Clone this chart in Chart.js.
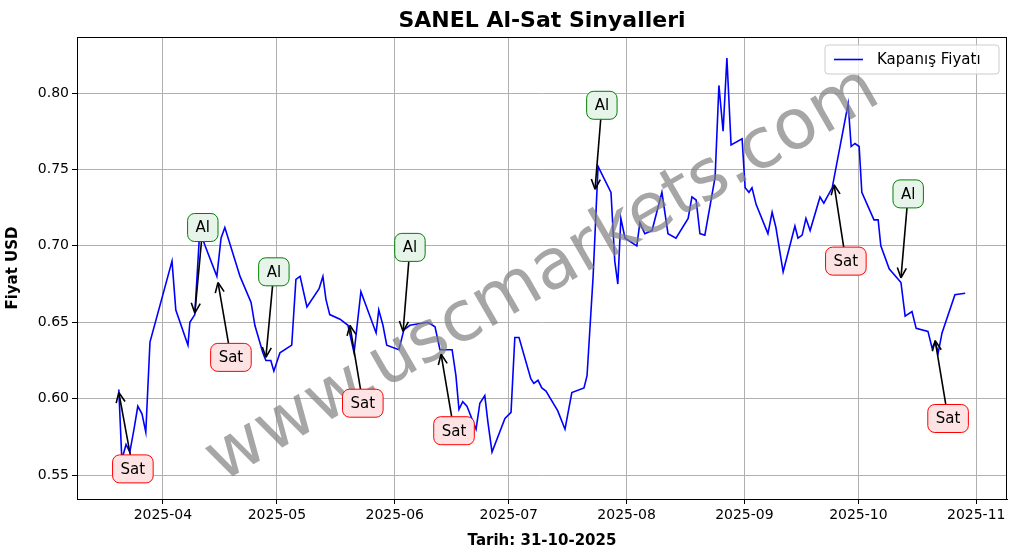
<!DOCTYPE html>
<html>
<head>
<meta charset="utf-8">
<script src="https://cdn.jsdelivr.net/npm/chart.js@4"></script>
<style>
  body { margin: 0; background: #fff; }
  #wrap { width: 1017px; height: 554px; }
</style>
</head>
<body>
<div id="wrap"><canvas id="lineChart"></canvas></div>
<script>
// day of year 2025 (Jan 1 = 0)
const days = [78.4, 79.2, 80.3, 81.3, 82.4, 83.4, 84.5, 85.5, 86.6, 92.4, 93.4, 96.6, 97.1, 98.4, 99.7, 101.1,
  104.2, 105.3, 106.3, 110.3, 113.2, 114.2, 116.3, 117.1, 118.4, 119.2, 120.8, 123.9, 125.0, 126.1, 127.9,
  131.1, 132.1, 132.9, 133.9, 136.6, 138.7, 140.3, 142.1, 146.1, 146.8, 147.9, 148.9, 152.1, 153.4, 155.0,
  159.7, 161.6, 162.9, 166.1, 167.1, 167.9, 168.9, 170.0, 172.4, 173.4, 174.7, 175.5, 176.6, 180.0, 181.6,
  182.6, 183.7, 186.8, 187.6, 188.7, 189.7, 190.8, 193.9, 195.8, 197.6, 200.8, 201.6, 203.2, 204.5, 207.9,
  208.9, 209.7, 210.5, 211.6, 214.7, 215.5, 216.8, 218.7, 221.3, 222.9, 225.0, 228.2, 229.2, 230.3, 231.3,
  232.6, 235.3, 236.3, 237.4, 238.4, 239.5, 242.4, 243.2, 244.2, 245.0, 246.1, 249.2, 250.3, 251.3, 252.4,
  253.2, 256.3, 257.1, 258.2, 259.2, 260.3, 262.9, 263.9, 266.1, 270.3, 271.1, 272.1, 273.2, 273.9, 277.1,
  278.2, 278.9, 281.1, 284.2, 285.3, 287.1, 288.2, 291.3, 292.4, 293.2, 294.0, 295.0, 298.4, 301.1];
const prices = [0.606, 0.560, 0.570, 0.565, 0.580, 0.595, 0.590, 0.578, 0.637, 0.690, 0.658, 0.635, 0.650, 0.655, 0.710, 0.700,
  0.680, 0.705, 0.712, 0.680, 0.663, 0.648, 0.630, 0.625, 0.625, 0.618, 0.630, 0.635, 0.678, 0.680, 0.660,
  0.672, 0.680, 0.665, 0.655, 0.652, 0.648, 0.630, 0.670, 0.643, 0.658, 0.648, 0.635, 0.632, 0.645, 0.648,
  0.650, 0.647, 0.632, 0.632, 0.615, 0.593, 0.598, 0.595, 0.580, 0.597, 0.602, 0.585, 0.565, 0.587, 0.591,
  0.640, 0.640, 0.613, 0.610, 0.612, 0.607, 0.605, 0.592, 0.580, 0.604, 0.607, 0.615, 0.680, 0.752, 0.735,
  0.690, 0.675, 0.718, 0.705, 0.700, 0.715, 0.708, 0.710, 0.735, 0.708, 0.705, 0.718, 0.732, 0.730, 0.708,
  0.707, 0.745, 0.805, 0.775, 0.823, 0.766, 0.770, 0.738, 0.735, 0.738, 0.727, 0.708, 0.722, 0.712, 0.695,
  0.683, 0.713, 0.705, 0.707, 0.718, 0.710, 0.732, 0.728, 0.738, 0.793, 0.765, 0.767, 0.765, 0.735, 0.717,
  0.717, 0.700, 0.685, 0.676, 0.654, 0.657, 0.646, 0.644, 0.633, 0.637, 0.630, 0.643, 0.668, 0.669];

const tickDays = [90, 120, 151, 181, 212, 243, 273, 304];
const tickLabels = ["2025-04", "2025-05", "2025-06", "2025-07", "2025-08", "2025-09", "2025-10", "2025-11"];
const yTicks = [0.55, 0.60, 0.65, 0.70, 0.75, 0.80];

// signals
const sigType = ["Sat", "Al", "Sat", "Al", "Sat", "Al", "Sat", "Al", "Sat", "Al", "Sat"];
const sigDay = [78.4, 98.4, 104.5, 117.1, 139.2, 153.2, 163.2, 203.7, 266.6, 284.2, 293.2];
const sigPrice = [0.604, 0.656, 0.676, 0.627, 0.648, 0.644, 0.629, 0.737, 0.740, 0.679, 0.638];
const labelDay = [82.1, 100.5, 107.9, 119.2, 142.6, 155.0, 166.6, 205.5, 269.7, 286.1, 296.6];
const labelPrice = [0.554, 0.712, 0.627, 0.683, 0.597, 0.699, 0.579, 0.792, 0.690, 0.734, 0.587];

const FONT = "DejaVu Sans";

function roundRect(ctx, x, y, w, h, r) {
  ctx.beginPath();
  ctx.moveTo(x + r, y);
  ctx.arcTo(x + w, y, x + w, y + h, r);
  ctx.arcTo(x + w, y + h, x, y + h, r);
  ctx.arcTo(x, y + h, x, y, r);
  ctx.arcTo(x, y, x + w, y, r);
  ctx.closePath();
}

const extras = {
  id: "extras",
  afterDatasetsDraw(chart) {
    const ctx = chart.ctx;
    const xs = chart.scales.x, ys = chart.scales.y;
    const area = chart.chartArea;
    ctx.save();
    // frame
    ctx.strokeStyle = "#000";
    ctx.lineWidth = 1;
    ctx.strokeRect(area.left + 0.5, area.top + 0.5, area.right - area.left - 1, area.bottom - area.top);

    // watermark
    ctx.save();
    ctx.translate(543, 276);
    ctx.rotate(-30 * Math.PI / 180);
    ctx.font = "70px " + FONT;
    ctx.fillStyle = "rgba(128,128,128,0.7)";
    ctx.textAlign = "center";
    ctx.textBaseline = "middle";
    ctx.fillText("www.uscmarkets.com", 0, 0);
    ctx.restore();

    // annotations
    ctx.font = "15px " + FONT;
    for (let i = 0; i < sigType.length; i++) {
      const tx = xs.getPixelForValue(sigDay[i]), ty = ys.getPixelForValue(sigPrice[i]);
      const lx = xs.getPixelForValue(labelDay[i]), ly = ys.getPixelForValue(labelPrice[i]);
      const w = ctx.measureText(sigType[i]).width + 16, h = 28;
      const dx = tx - lx, dy = ty - ly;
      const len = Math.hypot(dx, dy);
      const ux = dx / len, uy = dy / len;
      const t0 = Math.min((w / 2) / Math.abs(ux || 1e-9), (h / 2) / Math.abs(uy || 1e-9));
      const sx = lx + ux * t0, sy = ly + uy * t0;
      ctx.strokeStyle = "#000";
      ctx.lineWidth = 1.6;
      ctx.beginPath();
      ctx.moveTo(sx, sy);
      ctx.lineTo(tx - ux * 2, ty - uy * 2);
      ctx.stroke();
      const ah = 10, aw = 4.5;
      ctx.beginPath();
      ctx.moveTo(tx, ty);
      ctx.lineTo(tx - ux * ah - uy * aw, ty - uy * ah + ux * aw);
      ctx.moveTo(tx, ty);
      ctx.lineTo(tx - ux * ah + uy * aw, ty - uy * ah - ux * aw);
      ctx.stroke();
      const al = sigType[i] === "Al";
      roundRect(ctx, lx - w / 2, ly - h / 2, w, h, 7);
      ctx.fillStyle = al ? "#e6f4ea" : "#fde3e3";
      ctx.fill();
      ctx.strokeStyle = al ? "green" : "red";
      ctx.lineWidth = 1;
      ctx.stroke();
      ctx.fillStyle = "#000";
      ctx.textAlign = "center";
      ctx.textBaseline = "middle";
      ctx.fillText(sigType[i], lx, ly + 1);
    }

    // legend
    const bx = 825, by = 45, bw = 174, bh = 29;
    roundRect(ctx, bx, by, bw, bh, 3);
    ctx.fillStyle = "rgba(255,255,255,0.8)";
    ctx.fill();
    ctx.strokeStyle = "#ccc";
    ctx.lineWidth = 1;
    ctx.stroke();
    ctx.strokeStyle = "blue";
    ctx.lineWidth = 1.6;
    ctx.beginPath();
    ctx.moveTo(bx + 9, by + bh / 2);
    ctx.lineTo(bx + 38, by + bh / 2);
    ctx.stroke();
    ctx.fillStyle = "#000";
    ctx.font = "15px " + FONT;
    ctx.textAlign = "left";
    ctx.fillText("Kapanış Fiyatı", bx + 52, by + bh / 2 + 1);

    // title
    ctx.font = "bold 22px " + FONT;
    ctx.textAlign = "center";
    ctx.textBaseline = "middle";
    ctx.fillText("SANEL Al-Sat Sinyalleri", (area.left + area.right) / 2, 21);
    ctx.restore();
  }
};

new Chart(document.getElementById("lineChart"), {
  type: "line",
  data: {
    datasets: [{
      label: "Kapanış Fiyatı",
      data: days.map((d, i) => ({ x: d, y: prices[i] })),
      borderColor: "blue",
      borderWidth: 1.6,
      pointRadius: 0,
      tension: 0,
    }],
  },
  options: {
    responsive: true,
    maintainAspectRatio: false,
    animation: false,
    layout: { padding: { top: 37, right: 10, left: 0, bottom: 0 } },
    plugins: { legend: { display: false }, tooltip: { enabled: false } },
    scales: {
      x: {
        type: "linear",
        min: 67.4,
        max: 312.1,
        afterBuildTicks: (s) => { s.ticks = tickDays.map((v) => ({ value: v })); },
        afterFit: (s) => { s.height = 55; },
        ticks: {
          callback: (v) => tickLabels[tickDays.indexOf(v)],
          color: "#000",
          font: { family: FONT, size: 14 },
          maxRotation: 0,
          autoSkip: false,
        },
        grid: { color: "#b0b0b0", tickColor: "#000", tickLength: 5 },
        border: { color: "#000" },
        title: { display: true, text: "Tarih: 31-10-2025", color: "#000", font: { family: FONT, size: 15, weight: "bold" }, padding: { top: 0 } },
      },
      y: {
        min: 0.5343,
        max: 0.8367,
        afterBuildTicks: (s) => { s.ticks = yTicks.map((v) => ({ value: v })); },
        afterFit: (s) => { s.width = 77; },
        ticks: {
          callback: (v) => v.toFixed(2),
          color: "#000",
          font: { family: FONT, size: 14 },
        },
        grid: { color: "#b0b0b0", tickColor: "#000", tickLength: 5 },
        border: { color: "#000" },
        title: { display: true, text: "Fiyat USD", color: "#000", font: { family: FONT, size: 15, weight: "bold" }, padding: { bottom: 2 } },
      },
    },
  },
  plugins: [extras],
});
</script>
</body>
</html>
